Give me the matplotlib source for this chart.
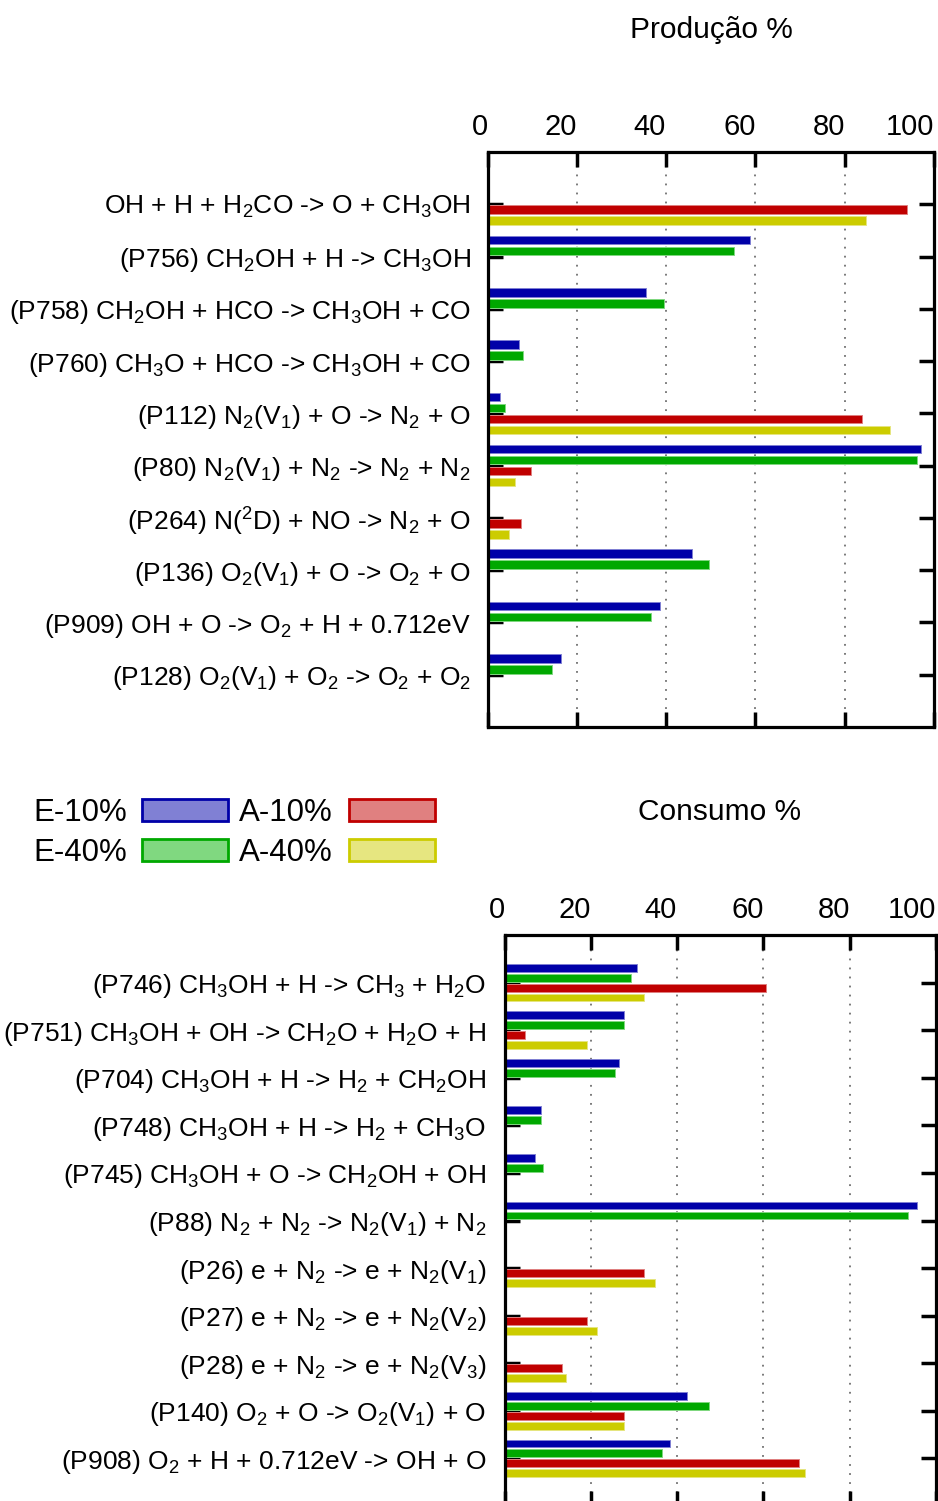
import matplotlib
matplotlib.use('Agg')
import matplotlib.pyplot as plt
import numpy as np
from matplotlib.patches import Patch

plt.rcParams['font.family'] = ['Liberation Sans', 'DejaVu Sans']
plt.rcParams['mathtext.fontset'] = 'custom'
plt.rcParams['mathtext.rm'] = 'Liberation Sans'
plt.rcParams['mathtext.default'] = 'regular'

# %% data
series = ['E-10%', 'E-40%', 'A-10%', 'A-40%']
dark = ['#0000a8', '#00a800', '#c00000', '#cccc00']
light = ['#8080d4', '#80d880', '#e08080', '#e6e680']

prod_labels = [
    'OH + H + H$_2$CO -> O + CH$_3$OH',
    '(P756) CH$_2$OH + H -> CH$_3$OH',
    '(P758) CH$_2$OH + HCO -> CH$_3$OH + CO',
    '(P760) CH$_3$O + HCO -> CH$_3$OH + CO',
    '(P112) N$_2$(V$_1$) + O -> N$_2$ + O$\\ $',
    '(P80) N$_2$(V$_1$) + N$_2$ -> N$_2$ + N$_2$',
    '(P264) N($^2$D) + NO -> N$_2$ + O',
    '(P136) O$_2$(V$_1$) + O -> O$_2$ + O',
    '(P909) OH + O -> O$_2$ + H + 0.712eV$\\,$',
    '(P128) O$_2$(V$_1$) + O$_2$ -> O$_2$ + O$_2\\,$',
]
prod_e10 = [0, 58.9, 35.5, 7.0, 2.7, 97.1, 0, 45.8, 38.7, 16.4]
prod_e40 = [0, 55.1, 39.6, 7.9, 4.0, 96.2, 0, 49.7, 36.6, 14.4]
prod_a10 = [93.9, 0, 0, 0, 83.8, 9.7, 7.4, 0, 0, 0]
prod_a40 = [84.7, 0, 0, 0, 90.1, 6.1, 4.9, 0, 0, 0]

cons_labels = [
    '(P746) CH$_3$OH + H -> CH$_3$ + H$_2$O',
    '(P751) CH$_3$OH + OH -> CH$_2$O + H$_2$O + H',
    '(P704) CH$_3$OH + H -> H$_2$ + CH$_2$OH',
    '(P748) CH$_3$OH + H -> H$_2$ + CH$_3$O',
    '(P745) CH$_3$OH + O -> CH$_2$OH + OH',
    '(P88) N$_2$ + N$_2$ -> N$_2$(V$_1$) + N$_2$',
    '(P26) e + N$_2$ -> e + N$_2$(V$_1$)',
    '(P27) e + N$_2$ -> e + N$_2$(V$_2$)',
    '(P28) e + N$_2$ -> e + N$_2$(V$_3$)',
    '(P140) O$_2$ + O -> O$_2$(V$_1$) + O',
    '(P908) O$_2$ + H + 0.712eV -> OH + O',
]
cons_e10 = [30.7, 27.6, 26.6, 8.4, 7.0, 95.5, 0, 0, 0, 42.4, 38.4]
cons_e40 = [29.4, 27.6, 25.7, 8.4, 8.9, 93.6, 0, 0, 0, 47.4, 36.6]
cons_a10 = [60.7, 4.8, 0, 0, 0, 0, 32.4, 19.2, 13.4, 27.6, 68.3]
cons_a40 = [32.4, 19.2, 0, 0, 0, 0, 34.8, 21.5, 14.3, 27.6, 69.7]

W, H = 938, 1501
fig = plt.figure(figsize=(W / 100, H / 100), dpi=100)


def px_axes(left, right, top, bottom):
    return fig.add_axes([left / W, 1 - bottom / H, (right - left) / W, (bottom - top) / H])


def panel(ax, labels, values, pad):
    n = len(labels)
    y = np.arange(n)
    step = 0.21
    for k, vals in enumerate(values):
        ax.barh(y + (k - 1.5) * step, vals, height=0.165, color=dark[k],
                edgecolor=light[k], linewidth=0.7, zorder=3)
    ax.set_xlim(0, 100)
    ax.set_ylim(n, -1)
    ax.set_yticks(y)
    ax.set_xticks([0, 20, 40, 60, 80, 100])
    for x in [20, 40, 60, 80]:
        ax.axvline(x, color='#707070', lw=1.3, ls=(0, (1, 4)), zorder=1)
    ax.tick_params(axis='both', direction='in', length=11, width=2.5,
                   top=True, right=True, bottom=True, left=True,
                   labeltop=True, labelbottom=False)
    ax.tick_params(axis='y', pad=pad, labelsize=19)
    ax.tick_params(axis='x', pad=8, labelsize=21)
    ax.set_yticklabels(labels)
    for lab in ax.get_xticklabels(which='both'):
        lab.set_horizontalalignment('right')
    for s in ax.spines.values():
        s.set_linewidth(2.3)
        s.set_zorder(5)


ax1 = px_axes(487.5, 934, 152, 727)
panel(ax1, prod_labels, [prod_e10, prod_e40, prod_a10, prod_a40], 12)

ax2 = px_axes(504.5, 936, 935, 1506)
panel(ax2, cons_labels, [cons_e10, cons_e40, cons_a10, cons_a40], 13)

fig.text(711 / W, 1 - 30 / H, 'Produção %', fontsize=21.5, ha='center', va='center')
fig.text(720 / W, 1 - 812 / H, 'Consumo %', fontsize=21.5, ha='center', va='center')

handles = [Patch(facecolor=light[k], edgecolor=dark[k], linewidth=2) for k in range(4)]
fig.legend(handles, series, ncol=2, loc='upper left', markerfirst=False,
           bbox_to_anchor=(33 / W, 1 - 798 / H), frameon=False, fontsize=22.5,
           borderpad=0, borderaxespad=0, handlelength=2.75, handleheight=0.68,
           handletextpad=0.5, columnspacing=0.35, labelspacing=0.32)

fig.savefig('out.png', dpi=100)
